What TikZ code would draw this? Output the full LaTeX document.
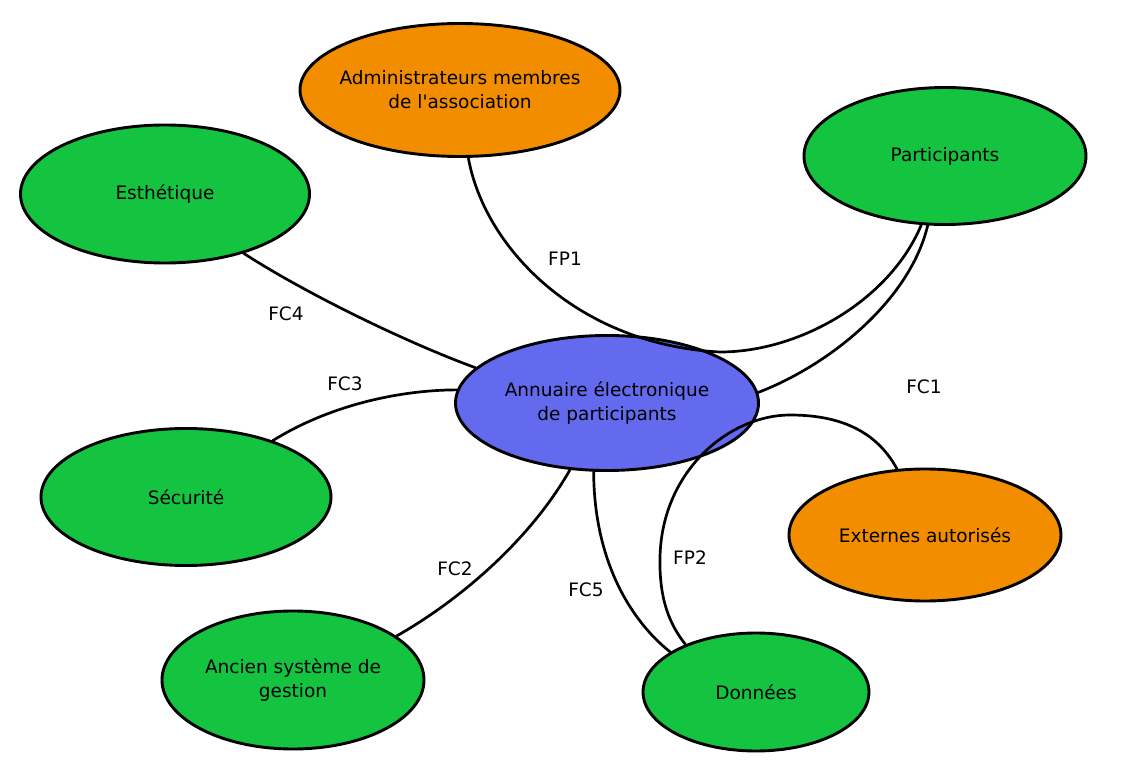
\documentclass[tikz,border=0pt]{standalone}
\usepackage{fontspec}
\usetikzlibrary{shapes.geometric}
\newfontfamily\djv{DejaVu Sans}
\definecolor{cgreen}{RGB}{20,196,64}
\definecolor{corange}{RGB}{242,141,0}
\definecolor{cblue}{RGB}{100,106,238}
\begin{document}
\begin{tikzpicture}[x=1pt,y=-1pt,
  bubble/.style={ellipse,draw=black,line width=2.9pt,inner sep=0pt},
  btext/.style={align=center,inner sep=0pt,font=\djv\fontsize{18.5}{24}\selectfont},
  link/.style={draw=black,line width=2.7pt,line cap=round},
  lbl/.style={font=\djv\fontsize{18.5}{22}\selectfont,inner sep=0pt}]
\useasboundingbox[fill=white] (0,0) rectangle (1136,778);

\node[bubble,fill=corange,minimum width=320pt,minimum height=133pt] (admin) at (460,90) {};
\node[btext] (adminT) at (admin.center) {Administrateurs membres\\de l'association};
\node[bubble,fill=cgreen,minimum width=282pt,minimum height=137pt] (part) at (945,156) {};
\node[btext] (partT) at (part.center) {Participants};
\node[bubble,fill=cgreen,minimum width=289pt,minimum height=138pt] (esth) at (165,194) {};
\node[btext] (esthT) at (esth.center) {Esthétique};
\node[bubble,fill=cgreen,minimum width=290pt,minimum height=137pt] (secu) at (186,497) {};
\node[btext] (secuT) at (secu.center) {Sécurité};
\node[bubble,fill=corange,minimum width=272pt,minimum height=132pt] (ext) at (925,535) {};
\node[btext] (extT) at (ext.center) {Externes autorisés};
\node[bubble,fill=cgreen,minimum width=262pt,minimum height=138pt] (anc) at (293,680) {};
\node[btext] (ancT) at (anc.center) {Ancien système de\\gestion};
\node[bubble,fill=cgreen,minimum width=226pt,minimum height=118pt] (don) at (756,692) {};
\node[btext] (donT) at (don.center) {Données};
\node[bubble,fill=cblue,minimum width=303pt,minimum height=135pt] (ann) at (607,403) {};
\node[btext] (annT) at (ann.center) {Annuaire électronique\\de participants};

% connectors
\draw[link] (admin.-83) .. controls (485,250) and (580,345) .. (720,352)
  .. controls (800,352) and (890,300) .. (part.-109);
\draw[link] (ann.4) .. controls (830,365) and (910,300) .. (part.-104);
\draw[link] (ext.113) .. controls (875,428) and (835,415) .. (790,415)
  .. controls (730,415) and (662,470) .. (660,557)
  .. controls (659,600) and (670,625) .. (don.146);
\draw[link] (ann.-101) .. controls (594,560) and (630,620) .. (don.155);
\draw[link] (ann.-119) .. controls (530,540) and (460,600) .. (anc.23);
\draw[link] (secu.33) .. controls (330,405) and (400,390) .. (ann.175);
\draw[link] (esth.-37) .. controls (300,290) and (400,340) .. (ann.165);

% labels
\node[lbl] (lfp1) at (565,259) {FP1};
\node[lbl] (lfc4) at (286,314) {FC4};
\node[lbl] (lfc3) at (345,384) {FC3};
\node[lbl] (lfc1) at (924,387) {FC1};
\node[lbl] (lfp2) at (690,558) {FP2};
\node[lbl] (lfc2) at (455,569) {FC2};
\node[lbl] (lfc5) at (586,590) {FC5};
\end{tikzpicture}
\end{document}
